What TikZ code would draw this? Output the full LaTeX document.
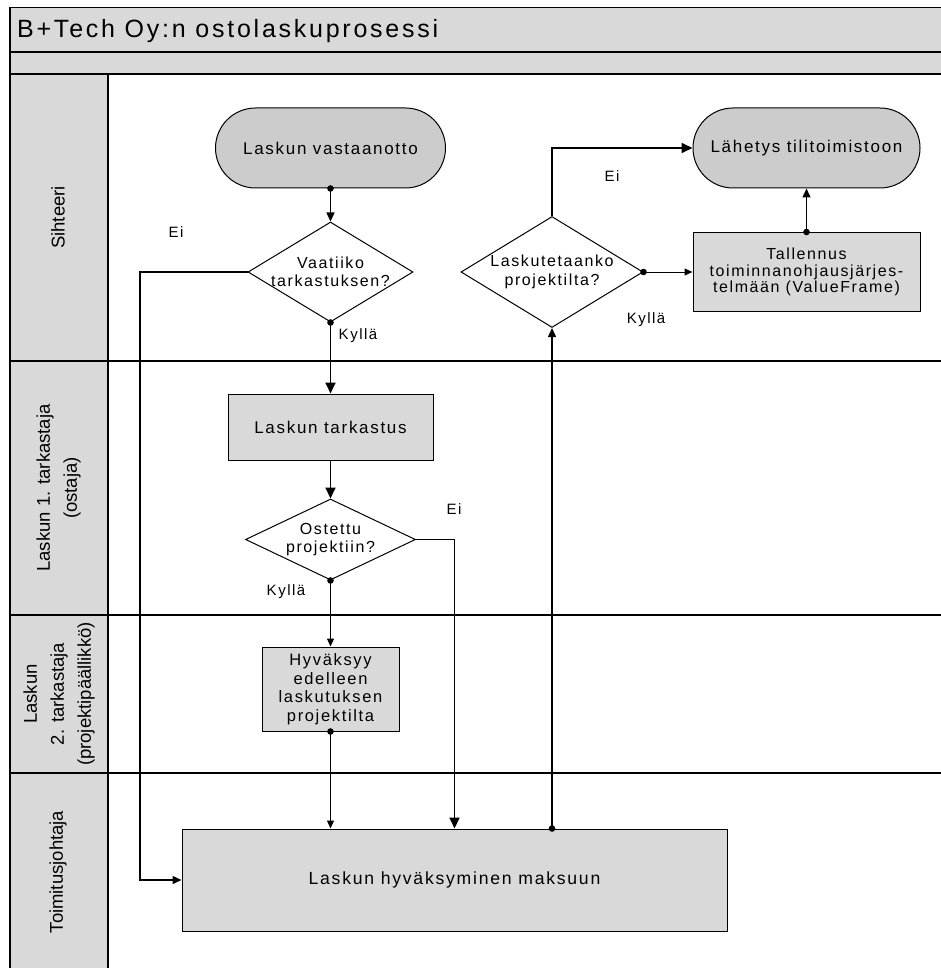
\documentclass[tikz,border=0pt]{standalone}
\usepackage{fontspec}
\setmainfont{Liberation Sans}
\newfontfamily\spacedfont[LetterSpace=10]{Liberation Sans}
\newfontfamily\titlefont[LetterSpace=11]{Liberation Sans}
\usetikzlibrary{arrows.meta,shapes.geometric,shapes.misc,calc}

\definecolor{bandgray}{RGB}{217,217,217}
\definecolor{termgray}{RGB}{204,204,204}

\newcommand\conndot[1]{\fill #1 circle (3.3pt);}

\begin{document}
\begin{tikzpicture}[x=1pt,y=-1pt,
  lanefill/.style={fill=bandgray,draw=black,line width=1.3pt},
  laneline/.style={draw=black,line width=1.3pt},
  lanelabel/.style={rotate=90,align=center,inner sep=0pt,font=\fontsize{18.5}{27}\selectfont},
  terminal/.style={rounded rectangle,draw=black,line width=1pt,fill=termgray,
    minimum width=230pt,minimum height=80pt,inner sep=0pt,
    font=\spacedfont\fontsize{17}{20}\selectfont},
  process/.style={rectangle,draw=black,line width=1pt,fill=bandgray,inner sep=0pt,
    align=center,font=\spacedfont\fontsize{16.5}{18.5}\selectfont},
  decision/.style={diamond,draw=black,line width=1pt,fill=white,inner sep=0pt},
  dtext/.style={align=center,inner sep=0pt,font=\spacedfont\fontsize{16}{18.5}\selectfont},
  branch/.style={inner sep=0pt,font=\spacedfont\fontsize{15}{17}\selectfont},
  thinarrow/.style={draw,line width=1pt,-{Triangle[length=8pt,width=7pt]}},
  medarrow/.style={draw,line width=1.4pt,-{Triangle[length=9pt,width=8pt]}},
  thickarrow/.style={draw,line width=1.8pt,-{Triangle[length=11pt,width=10pt]}}
]
\useasboundingbox (0,0) rectangle (941,968);

% swimlane frame
\begin{scope}
  \clip (0,0) rectangle (941,968);
  \draw[lanefill] (10,7.5) rectangle (950,52);
  \draw[lanefill] (10,52) rectangle (950,74);
  \draw[lanefill] (10,74) rectangle (108,985);
  \draw[laneline] (10,361) -- (950,361);
  \draw[laneline] (10,615) -- (950,615);
  \draw[laneline] (10,773) -- (950,773);
\end{scope}

\node[anchor=west,inner sep=0pt,font=\titlefont\fontsize{25}{28}\selectfont] (title) at (17,31) {B+Tech Oy:n ostolaskuprosessi};

% lane labels
\node[lanelabel] (lab1) at (58,217.5) {Sihteeri};
\node[lanelabel] (lab2) at (58.5,488) {Laskun 1. tarkastaja\\(ostaja)};
\node[lanelabel] (lab3) at (59,694) {Laskun\\2. tarkastaja\\(projektipäällikkö)};
\node[lanelabel] (lab4) at (58,872) {Toimitusjohtaja};

% flow elements
\node[terminal] (start) at (330.5,148) {Laskun vastaanotto};
\node[terminal,minimum width=227pt] (send) at (806.5,148) {Lähetys tilitoimistoon};
\node[decision,minimum width=165pt,minimum height=100pt,
  label={[dtext]center:Vaatiiko\\tarkastuksen?}] (q1) at (330.5,272) {};
\node[decision,minimum width=182pt,minimum height=111pt,
  label={[dtext]center:Laskutetaanko\\projektilta?}] (q3) at (552,272) {};
\node[process,minimum width=227pt,minimum height=79pt,
  font=\spacedfont\fontsize{16}{16.5}\selectfont] (save) at (806.5,272)
  {Tallennus\\toiminnanohjausjärjes-\\telmään (ValueFrame)};
\node[process,minimum width=205pt,minimum height=66pt,
  font=\spacedfont\fontsize{17}{20}\selectfont] (check) at (330.5,427) {Laskun tarkastus};
\node[decision,minimum width=170pt,minimum height=81pt,
  label={[dtext]center:Ostettu\\projektiin?}] (q2) at (330.5,539.5) {};
\node[process,minimum width=137pt,minimum height=84pt] (fwd) at (330.5,689)
  {Hyväksyy\\edelleen\\laskutuksen\\projektilta};
\node[process,minimum width=545pt,minimum height=102pt,
  font=\spacedfont\fontsize{17.6}{20}\selectfont] (pay) at (454.5,880) {Laskun hyväksyminen maksuun};

\coordinate (eiturn) at (140,272);

% connectors
\draw[medarrow] (start.south) -- (q1.north);
\conndot{(start.south)}
\draw[thickarrow] (q1.south) -- (check.north);
\conndot{(q1.south)}
\draw[medarrow] (q1.west) -- (eiturn) |- (pay.west);
\draw[thickarrow] (check.south) -- (q2.north);
\draw[thinarrow] (q2.south) -- (fwd.north);
\conndot{(q2.south)}
\draw[thickarrow] (q2.east) -| (pay.north);
\draw[thinarrow] (fwd.south) -- (fwd.south |- pay.north);
\conndot{(fwd.south)}
\draw[medarrow] (q3.south |- pay.north) -- (q3.south);
\conndot{(q3.south |- pay.north)}
\draw[thickarrow] (q3.north) |- (send.west);
\draw[thinarrow] (q3.east) -- (save.west);
\conndot{(q3.east)}
\draw[medarrow] (save.north) -- (send.south);
\conndot{(save.north)}

% branch labels
\node[branch] (ei1) at (176,232) {Ei};
\node[branch] (ky1) at (358,336) {Kyllä};
\node[branch] (ky2) at (286,592) {Kyllä};
\node[branch] (ei2) at (454,509) {Ei};
\node[branch] (ei3) at (612,176) {Ei};
\node[branch] (ky3) at (646,320) {Kyllä};
\end{tikzpicture}
\end{document}
